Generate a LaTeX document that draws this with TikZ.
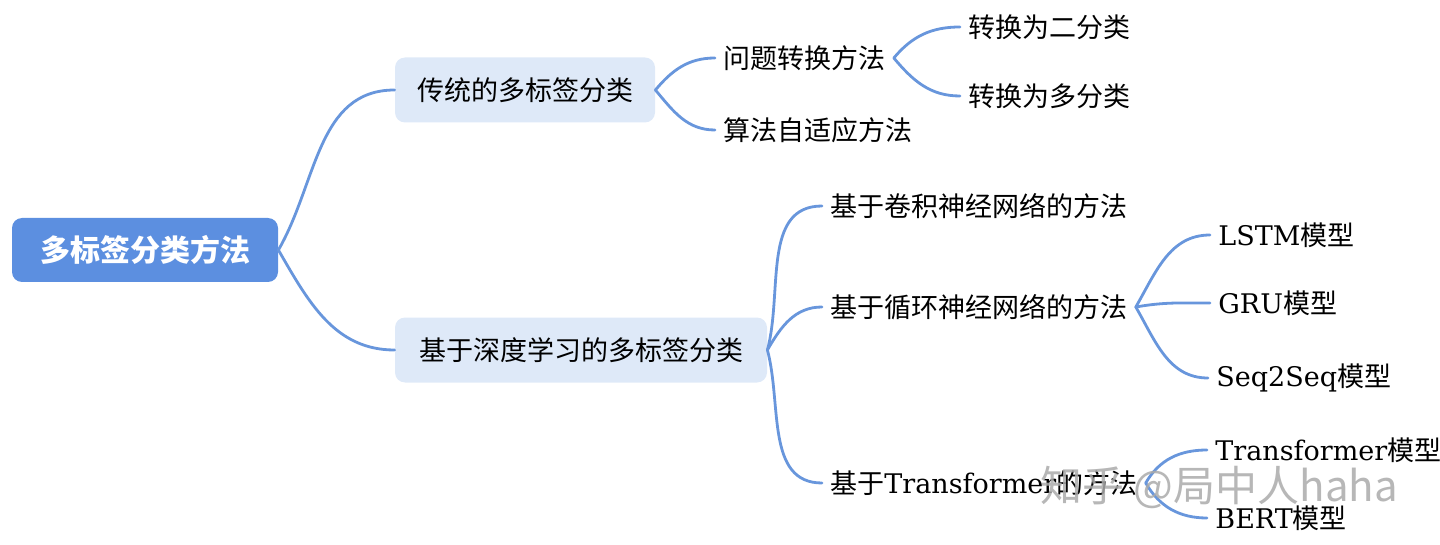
\documentclass[tikz,border=0pt]{standalone}
\usepackage{fontspec}
\setmainfont{DejaVu Serif}
\newfontfamily\cjk{Noto Sans CJK SC}
\definecolor{rootblue}{RGB}{92,143,224}
\definecolor{lightblue}{RGB}{222,233,248}
\definecolor{linkblue}{RGB}{104,150,220}
\definecolor{wmgray}{RGB}{170,170,170}
\tikzset{
  rootbox/.style={fill=rootblue, rounded corners=5pt, minimum width=133pt, minimum height=32pt,
    text=white, font=\cjk\bfseries\fontsize{15pt}{18pt}\selectfont, inner sep=0pt},
  subbox/.style={fill=lightblue, rounded corners=5pt, minimum height=32.5pt,
    font=\cjk\fontsize{13.5pt}{16pt}\selectfont, inner sep=0pt},
  leaf/.style={anchor=west, inner xsep=4pt, inner ysep=0pt, font=\cjk\fontsize{13.5pt}{16pt}\selectfont},
  link/.style={draw=linkblue, line width=1.4pt, line cap=round},
  watermark/.style={anchor=west, inner sep=0pt, text=wmgray, opacity=0.85,
    font=\cjk\fontsize{21pt}{24pt}\selectfont},
}
\begin{document}
\begin{tikzpicture}[x=0.5pt,y=0.5pt]
\useasboundingbox (0,0) rectangle (1440,-545);
% boxes
\node[rootbox] (root) at (145,-250) {多标签分类方法};
\node[subbox, minimum width=130pt] (n1) at (525,-90) {传统的多标签分类};
\node[subbox, minimum width=186pt] (n2) at (581,-350) {基于深度学习的多标签分类};
% leaves
\node[leaf] (q1) at (715,-58) {问题转换方法};
\node[leaf] (q2) at (715,-130) {算法自适应方法};
\node[leaf] (r1) at (960,-27) {转换为二分类};
\node[leaf] (r2) at (960,-96) {转换为多分类};
\node[leaf] (c1) at (822,-206) {基于卷积神经网络的方法};
\node[leaf] (c2) at (822,-307) {基于循环神经网络的方法};
\node[leaf] (c3) at (822,-483) {基于{\rmfamily Transformer}的方法};
\node[leaf] (l1) at (1210,-235) {{\rmfamily LSTM}模型};
\node[leaf] (l2) at (1210,-303) {{\rmfamily GRU}模型};
\node[leaf] (l3) at (1208,-378) {{\rmfamily Seq2Seq}模型};
\node[leaf] (t1) at (1207,-450) {{\rmfamily Transformer}模型};
\node[leaf] (t2) at (1207,-518) {{\rmfamily BERT}模型};
% links
\draw[link] (root.east) to[out=60,in=180] (n1.west);
\draw[link] (root.east) to[out=-60,in=180] (n2.west);
\draw[link] (n1.east) to[out=50,in=180] (q1.west);
\draw[link] (n1.east) to[out=-50,in=180] (q2.west);
\draw[link] (q1.east) to[out=50,in=180] (r1.west);
\draw[link] (q1.east) to[out=-50,in=180] (r2.west);
\draw[link] (n2.east) to[out=75,in=180] (c1.west);
\draw[link] (n2.east) to[out=60,in=180] (c2.west);
\draw[link] (n2.east) to[out=-75,in=180] (c3.west);
\draw[link] (c2.east) to[out=60,in=180] (l1.west);
\draw[link] (c2.east) to[out=10,in=180] (l2.west);
\draw[link] (c2.east) to[out=-60,in=180] (l3.west);
\draw[link] (c3.east) to[out=60,in=180] (t1.west);
\draw[link] (c3.east) to[out=-60,in=180] (t2.west);
% watermark
\node[watermark] (wm) at (1040,-487) {知乎 @局中人haha};
\end{tikzpicture}
\end{document}
